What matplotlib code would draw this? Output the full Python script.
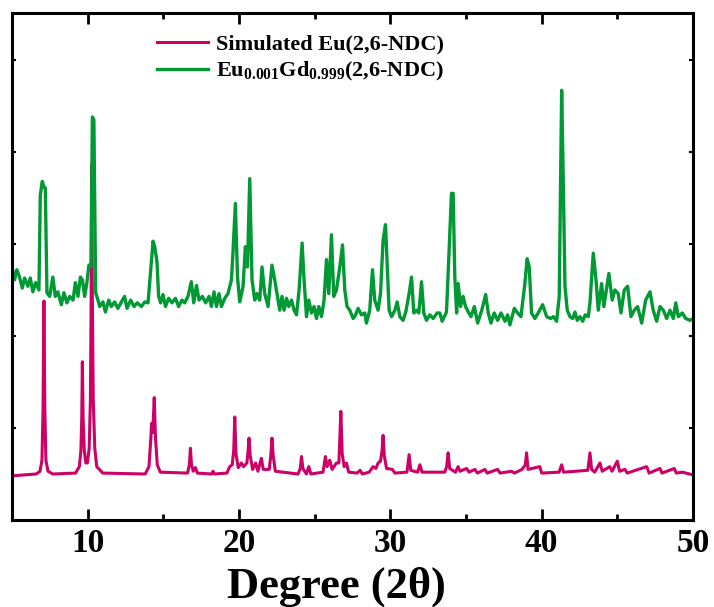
import numpy as np
import matplotlib
matplotlib.use('Agg')
import matplotlib.pyplot as plt

plt.rcParams['font.family'] = ['Liberation Serif', 'DejaVu Serif']
plt.rcParams['font.weight'] = 'bold'
plt.rcParams['mathtext.fontset'] = 'custom'
plt.rcParams['mathtext.rm'] = 'Liberation Serif:bold'
plt.rcParams['mathtext.bf'] = 'Liberation Serif:bold'
plt.rcParams['mathtext.it'] = 'Liberation Serif:bold'

# simulated pattern, (2theta, intensity)
sim_2theta = [5.0, 6.6, 6.85, 6.98, 7.05, 7.11, 7.17, 7.24, 7.38, 7.7, 9.2, 9.45, 9.55, 9.61,
              9.65, 9.70, 9.78, 9.88, 9.98, 10.1, 10.18, 10.23, 10.27, 10.31, 10.37, 10.47,
              10.6, 11.0, 13.8, 14.05, 14.18, 14.22,
              14.3, 14.4, 14.48, 14.6, 14.8, 16.6, 16.72, 16.79, 16.86, 16.98, 17.12, 17.25,
              18.2, 18.28, 18.38, 19.2, 19.39, 19.55, 19.65, 19.72, 19.8, 19.95, 20.16, 20.3,
              20.52, 20.6, 20.66, 20.74, 20.9, 21.1, 21.25, 21.48, 21.6, 22.0, 22.1, 22.18,
              22.26, 22.4, 23.9, 24.05, 24.13, 24.22, 24.45, 24.61, 24.75, 25.55, 25.71, 25.82,
              26.0, 26.15, 26.44, 26.6, 26.73, 26.82, 26.95, 27.1, 27.25, 27.8, 28.0, 28.15,
              28.6, 28.86, 29.05, 29.19, 29.35, 29.45, 29.52, 29.6, 29.75, 30.14, 30.3, 31.1,
              31.24, 31.35, 31.8, 31.95, 32.1, 32.72, 33.6, 33.72, 33.82, 33.92, 34.3, 34.48,
              34.6, 35.04, 35.2, 35.59, 35.75, 36.25, 36.4, 37.09, 37.25, 38.01, 38.2, 38.7,
              38.92, 39.0, 39.1, 39.88, 40.0, 41.15, 41.32, 41.45, 43.05, 43.19, 43.3, 43.5,
              43.85, 44.0, 44.5, 44.65, 45.0, 45.15, 45.5, 45.65, 46.94, 47.1, 47.82, 47.95,
              48.76, 48.9, 49.3, 50.0]
sim_int = [0.48, 0.50, 0.53, 0.65, 1.2, 2.38, 1.2, 0.65, 0.53, 0.50, 0.51, 0.58, 0.75, 1.1,
           1.72, 1.1, 0.75, 0.62, 0.62, 0.78, 1.3, 2.4, 3.86, 2.4, 1.3, 0.78,
           0.58, 0.51, 0.50, 0.58, 0.9, 1.05,
           0.95, 1.33, 0.9, 0.6, 0.52, 0.51, 0.6, 0.78, 0.6, 0.53, 0.57, 0.51,
           0.50, 0.53, 0.50, 0.51, 0.58, 0.6, 0.75, 1.12, 0.72, 0.57, 0.62, 0.58,
           0.62, 0.75, 0.89, 0.7, 0.55, 0.62, 0.53, 0.67, 0.55, 0.55, 0.7, 0.89,
           0.7, 0.53, 0.50, 0.56, 0.69, 0.56, 0.50, 0.58, 0.50, 0.52, 0.69, 0.58,
           0.65, 0.55, 0.62, 0.62, 1.18, 0.72, 0.58, 0.62, 0.52, 0.51, 0.54, 0.50,
           0.52, 0.58, 0.56, 0.62, 0.64, 0.75, 0.92, 0.7, 0.56, 0.55, 0.51, 0.52,
           0.71, 0.54, 0.52, 0.6, 0.52, 0.52, 0.52, 0.58, 0.73, 0.56, 0.52, 0.58,
           0.53, 0.56, 0.52, 0.55, 0.51, 0.55, 0.51, 0.55, 0.51, 0.53, 0.51, 0.55,
           0.6, 0.73, 0.55, 0.58, 0.51, 0.52, 0.6, 0.52, 0.54, 0.73, 0.55, 0.52,
           0.62, 0.53, 0.58, 0.53, 0.64, 0.53, 0.55, 0.51, 0.58, 0.51, 0.56, 0.51,
           0.56, 0.51, 0.52, 0.49]

# measured Eu0.001Gd0.999(2,6-NDC) pattern
meas_2theta = [5.0, 5.17, 5.32, 5.50, 5.68, 5.83, 6.05, 6.21, 6.38, 6.56, 6.78, 6.87, 7.00,
               7.11, 7.20, 7.31, 7.49, 7.70, 7.86, 8.03, 8.26, 8.43, 8.63, 8.81, 9.03, 9.19,
               9.36, 9.52, 9.65, 9.80, 9.95, 10.08, 10.22, 10.31, 10.41, 10.53, 10.68,
               10.79, 11.01, 11.17, 11.39, 11.57, 11.78, 12.00, 12.23, 12.44, 12.60, 12.84,
               13.06, 13.28, 13.55, 13.77, 13.99, 14.10, 14.32, 14.43, 14.58, 14.69, 14.82,
               14.98, 15.14, 15.35, 15.57, 15.80, 16.01, 16.23,
               16.41, 16.63, 16.85, 17.01, 17.19, 17.36, 17.58, 17.80, 18.02, 18.18, 18.35,
               18.51, 18.68, 18.84, 19.06, 19.27, 19.50, 19.60, 19.76, 19.90, 20.05, 20.27,
               20.42, 20.56, 20.71, 20.86, 21.04, 21.19, 21.37, 21.52, 21.70, 21.92,
               22.18, 22.36, 22.54, 22.69, 22.84, 22.98, 23.14, 23.29, 23.47, 23.64, 23.80,
               23.97, 24.17, 24.30, 24.46, 24.61, 24.79, 24.96, 25.12, 25.27, 25.45, 25.62,
               25.78, 25.93, 26.11, 26.26, 26.44, 26.66, 26.84, 26.99, 27.14, 27.32, 27.54,
               27.65, 27.87, 28.09, 28.31, 28.42, 28.64, 28.82, 28.97, 29.19, 29.35, 29.52,
               29.68, 29.78, 29.92, 30.08, 30.30, 30.45, 30.63, 30.84, 31.02, 31.24, 31.40,
               31.55, 31.73, 31.88, 32.06, 32.21, 32.39, 32.61, 32.83, 33.09,
               33.27, 33.42, 33.71, 33.82, 33.93, 34.04, 34.15, 34.26, 34.38, 34.48, 34.64,
               34.81, 34.97, 35.15, 35.33, 35.55, 35.77, 36.04, 36.30, 36.47, 36.65, 36.86,
               37.09, 37.31, 37.58, 37.75, 37.90, 38.19, 38.41, 38.63,
               38.89, 39.04, 39.18, 39.33, 39.55, 39.77, 40.06, 40.33, 40.59, 40.77, 40.99,
               41.16, 41.32, 41.43, 41.54, 41.69, 41.87, 42.05, 42.20, 42.35, 42.53, 42.71,
               42.88, 43.08, 43.19, 43.41, 43.59, 43.74, 43.96, 44.11, 44.44, 44.66,
               44.84, 45.06, 45.24, 45.46, 45.68, 45.90, 46.12, 46.34, 46.61, 46.87, 47.16,
               47.37, 47.60, 47.82, 48.04, 48.26, 48.48, 48.70, 48.86, 49.03, 49.29, 49.52,
               49.80, 50.0]
meas_int = [2.75, 2.61, 2.72, 2.64, 2.52, 2.63, 2.54, 2.63, 2.48, 2.58, 2.50, 3.53, 3.68,
            3.62, 3.61, 2.47, 2.43, 2.64, 2.43, 2.48, 2.34, 2.47, 2.36, 2.43, 2.39, 2.58,
            2.43, 2.64, 2.61, 2.43, 2.58, 2.77, 2.75, 4.38, 4.35, 2.47, 2.39,
            2.32, 2.37, 2.26, 2.39, 2.32, 2.37, 2.30, 2.37, 2.43, 2.30, 2.39,
            2.32, 2.36, 2.32, 2.37, 2.36, 2.58, 3.03, 2.97, 2.81, 2.43, 2.36,
            2.45, 2.32, 2.41, 2.36, 2.41, 2.32, 2.39,
            2.36, 2.43, 2.59, 2.36, 2.55, 2.39, 2.43, 2.36, 2.43, 2.32, 2.48,
            2.32, 2.46, 2.32, 2.41, 2.46, 2.61, 2.90, 3.44, 2.64, 2.37, 2.54,
            2.97, 2.75, 3.71, 2.61, 2.39, 2.46, 2.39, 2.75, 2.46, 2.32,
            2.77, 2.61, 2.43, 2.28, 2.43, 2.28, 2.41, 2.32, 2.39, 2.28, 2.23,
            2.50, 3.01, 2.61, 2.21, 2.39, 2.25, 2.32, 2.19, 2.32, 2.21, 2.39,
            2.83, 2.46, 3.10, 2.43, 2.50, 2.75, 2.99, 2.50, 2.32, 2.28, 2.19,
            2.21, 2.30, 2.23, 2.25, 2.14, 2.28, 2.72, 2.39, 2.28, 2.46, 3.04,
            3.21, 2.83, 2.28, 2.21, 2.28, 2.37, 2.21, 2.17, 2.26, 2.46, 2.64,
            2.25, 2.28, 2.25, 2.59, 2.25, 2.17, 2.23, 2.19, 2.25,
            2.25, 2.16, 2.26, 2.68, 3.13, 3.55, 3.55, 2.64, 2.25, 2.57, 2.32,
            2.43, 2.32, 2.26, 2.21, 2.32, 2.14, 2.28, 2.45, 2.25, 2.14, 2.25,
            2.17, 2.25, 2.16, 2.23, 2.12, 2.30, 2.25, 2.21,
            2.57, 2.84, 2.75, 2.25, 2.19, 2.25, 2.34, 2.21, 2.19, 2.21, 2.16,
            2.43, 4.67, 3.66, 2.54, 2.28, 2.21, 2.19, 2.26, 2.17, 2.21, 2.16,
            2.23, 2.21, 2.36, 2.90, 2.61, 2.28, 2.57, 2.32, 2.68, 2.39,
            2.50, 2.46, 2.25, 2.50, 2.54, 2.21, 2.28, 2.32, 2.14, 2.39, 2.48,
            2.28, 2.16, 2.32, 2.28, 2.19, 2.28, 2.19, 2.36, 2.21, 2.25, 2.19,
            2.17, 2.19]

labels = ['Simulated Eu(2,6-NDC)', r'Eu$_{\mathbf{0.001}}$Gd$_{\mathbf{0.999}}$(2,6-NDC)']
colors = ['#CC0066', '#009933']

fig = plt.figure(figsize=(7.14, 6.07), dpi=100)
ax = fig.add_axes([0.0168, 0.1433, 0.9538, 0.8353])

ax.plot(sim_2theta, sim_int, color=colors[0], lw=2.2, label=labels[0])
ax.plot(meas_2theta, meas_int, color=colors[1], lw=2.4, label=labels[1])

ax.set_xlim(5, 50)
ax.set_ylim(0, 5.51)
ax.set_xticks([10, 20, 30, 40, 50])
ax.set_xticks([15, 25, 35, 45], minor=True)
ax.set_yticks([1, 2, 3, 4, 5])
ax.set_yticklabels([])
ax.tick_params(axis='x', which='major', direction='in', top=True, length=8, width=2, labelsize=24, pad=6)
ax.tick_params(axis='x', which='minor', direction='in', top=True, length=4, width=2)
ax.tick_params(axis='y', which='major', direction='in', right=True, length=3, width=1.5)
for lab in ax.get_xticklabels():
    lab.set_fontweight('bold')
for sp in ax.spines.values():
    sp.set_linewidth(2.2)

ax.set_xlabel('Degree (2θ)', fontsize=32, fontweight='bold', labelpad=5)
ax.xaxis.label.set_x(0.477)

ax.legend(loc='upper left', bbox_to_anchor=(0.213, 0.958), frameon=False, fontsize=16,
          handlelength=2.3, handletextpad=0.35, labelspacing=0.25, borderpad=0, borderaxespad=0)

fig.savefig('out.png', dpi=100)
